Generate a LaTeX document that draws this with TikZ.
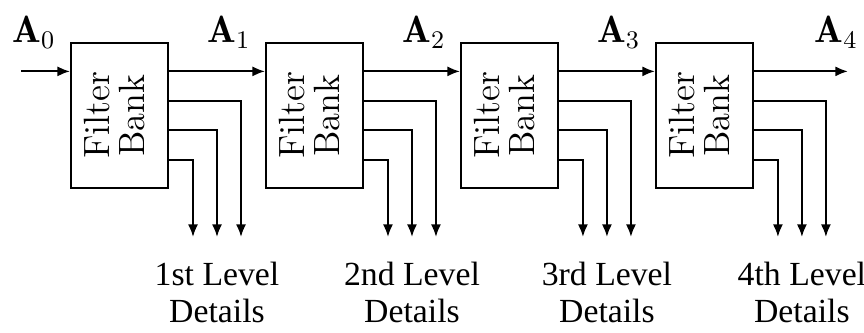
\documentclass[tikz,border=0pt]{standalone}
\usepackage{fontspec}
\newfontfamily\timesfont{Liberation Serif}
\usetikzlibrary{arrows.meta, positioning, calc}
\newcommand{\fbtext}{\rotatebox{90}{\begin{tabular}{@{}c@{}}Filter\\Bank\end{tabular}}}

\begin{document}
\begin{tikzpicture}[
  fbank/.style={draw, line width=0.7pt, minimum width=1.2125cm, minimum height=1.8125cm, inner sep=0pt, font=\fontsize{13}{12}\selectfont},
  sig/.style={line width=0.7pt, -{Latex[length=4.5pt, width=3.6pt]}},
  alabel/.style={anchor=base east, inner sep=0pt, font=\fontsize{13.5}{13}\selectfont},
  dlabel/.style={anchor=north, align=center, inner sep=0pt, font=\timesfont\fontsize{12}{13.1}\selectfont}
]
  \useasboundingbox (0,0) rectangle (10.8,4.1625);
  % filter banks
  \node[fbank] (fb1) at (1.494, 2.719) {\fbtext};
  \foreach \i/\j in {1/2, 2/3, 3/4}
    \node[fbank, right=1.2cm of fb\i] (fb\j) {\fbtext};

  % approximations
  \coordinate (x0) at ($(fb1.north west)!0.2!(fb1.south west)+(-0.61,0)$);
  \draw[sig] (x0) -- (x0 -| fb1.west);
  \node[alabel] (a0) at ($(x0 -| fb1.west)+(-0.175,0.36)$) {$\mathbf{A}_0$};
  \foreach \i in {1,...,4}
    \coordinate (o\i) at ($(fb\i.north east)!0.2!(fb\i.south east)$);
  \foreach \i/\j in {1/2, 2/3, 3/4} {
    \draw[sig] (o\i) -- (o\i -| fb\j.west);
    \node[alabel] (a\i) at ($(o\i -| fb\j.west)+(-0.175,0.36)$) {$\mathbf{A}_\i$};
  }
  \coordinate (x4) at ($(o4)+(1.175,0)$);
  \draw[sig] (o4) -- (x4);
  \node[alabel] (a4) at ($(x4)+(0.13,0.36)$) {$\mathbf{A}_4$};

  % details
  \foreach \i/\lv in {1/1st, 2/2nd, 3/3rd, 4/4th} {
    \foreach \f/\dx in {0.4/0.9, 0.6/0.6, 0.8/0.3}
      \draw[sig] ($(fb\i.north east)!\f!(fb\i.south east)$) -| ($(fb\i.south east)+(\dx,-0.6)$);
    \node[dlabel] (lv\i) at ($(fb\i.south east)+(0.6,-0.91)$) {\lv{} Level\\Details};
  }
\end{tikzpicture}
\end{document}
